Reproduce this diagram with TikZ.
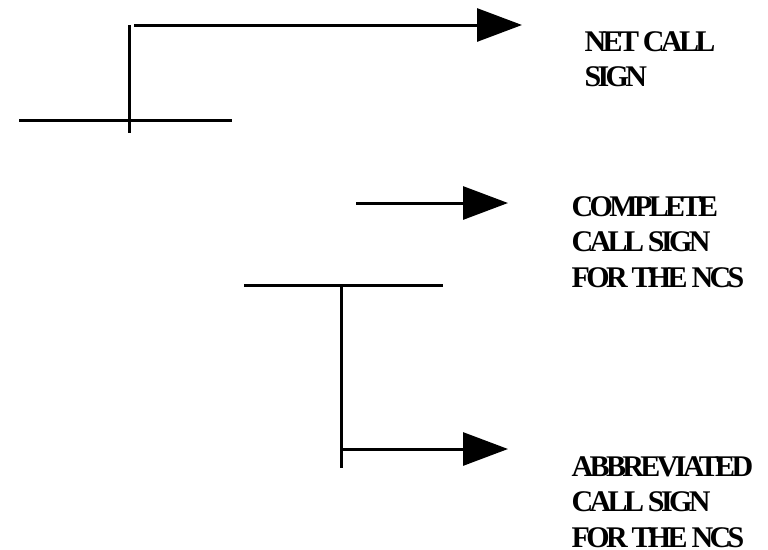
\documentclass[tikz,border=0pt]{standalone}
\usepackage{fontspec}
\usetikzlibrary{arrows.meta}
\newfontfamily\callfont{Liberation Serif}[LetterSpace=-12]

\begin{document}
\begin{tikzpicture}[x=1pt,y=-1pt,line width=3pt,
    callsign/.style={anchor=north west,inner sep=0pt,align=left,
      font=\callfont\bfseries\fontsize{30}{35.5}\selectfont},
    pointer/.style={-{Triangle[length=45pt,width=33pt]}}]

      \useasboundingbox (0,0) rectangle (768,549);

      \begin{scope}
        \coordinate (cross top)    at (129.5,25);
        \coordinate (cross bottom) at (129.5,133);
        \coordinate (cross left)   at (19,120);
        \coordinate (cross right)  at (232,120);
        \coordinate (net from)     at (134,25);
        \coordinate (net to)       at (522,25);
        \coordinate (ncs from)     at (356,203);
        \coordinate (ncs to)       at (508,203);
        \coordinate (tee left)     at (244,285);
        \coordinate (tee right)    at (443,285);
        \coordinate (tee top)      at (341,285);
        \coordinate (tee bottom)   at (341,468);
        \coordinate (abbr from)    at (341,449);
        \coordinate (abbr to)      at (508,449);
      \end{scope}

      \begin{scope}[every node/.style={callsign}]
        \node (net)  at (583,30)  {NET CALL\\SIGN};
        \node (ncs)  at (570,195) {COMPLETE\\CALL SIGN\\FOR THE NCS};
        \node (abbr) at (570,455) {ABBREVIATED\\CALL SIGN\\FOR THE NCS};
      \end{scope}

      \begin{scope}[every edge/.style={draw}]
        \path (cross top)  edge (cross bottom);
        \path (cross left) edge (cross right);
        \path (tee left)   edge (tee right);
        \path (tee top)    edge (tee bottom);
        \path (net from)   edge[pointer] (net to);
        \path (ncs from)   edge[pointer] (ncs to);
        \path (abbr from)  edge[pointer] (abbr to);
      \end{scope}

    \end{tikzpicture}
\end{document}
